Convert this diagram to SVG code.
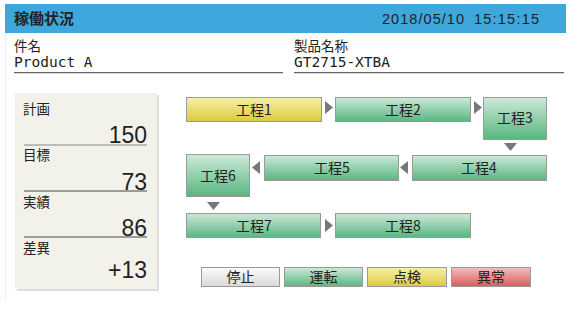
<svg xmlns="http://www.w3.org/2000/svg" width="570" height="322" viewBox="0 0 570 322">
<defs>
<linearGradient id="gG" x1="0" y1="0" x2="0" y2="1"><stop offset="0" stop-color="#cde9d8"/><stop offset="1" stop-color="#58b680"/></linearGradient>
<linearGradient id="gY" x1="0" y1="0" x2="0" y2="1"><stop offset="0" stop-color="#f7f0a8"/><stop offset="1" stop-color="#ddca3e"/></linearGradient>
<linearGradient id="gR" x1="0" y1="0" x2="0" y2="1"><stop offset="0" stop-color="#f5c0c0"/><stop offset="1" stop-color="#d85a5e"/></linearGradient>
<linearGradient id="gW" x1="0" y1="0" x2="0" y2="1"><stop offset="0" stop-color="#fbfbfb"/><stop offset="1" stop-color="#d9d9d9"/></linearGradient>
</defs>
<style>
.j{font-family:"Noto Sans CJK JP","Liberation Sans",sans-serif;fill:#222}
.n{font-family:"Liberation Sans",Arial,sans-serif;fill:#222}
.m{font-family:"DejaVu Sans Mono","Liberation Mono",monospace;fill:#222}
.box{stroke:#9a9a9a;stroke-width:1}
.bt{font-family:"Noto Sans CJK JP","Liberation Sans",sans-serif;font-size:14px;fill:#222;text-anchor:middle}
.arr{fill:#777}
.ul{stroke:#666;stroke-width:1.3}
</style>
<rect width="570" height="322" fill="#fff"/>
<line x1="5.5" y1="33" x2="5.5" y2="300" stroke="#eee"/>
<rect x="5" y="4" width="561" height="29" fill="#3ea8dd"/>
<text class="j" x="14" y="24" font-size="15" font-weight="bold">稼働状況</text>
<text class="n" y="24" font-size="14.5"><tspan x="382" textLength="82" lengthAdjust="spacing">2018/05/10</tspan><tspan x="474" textLength="65" lengthAdjust="spacing">15:15:15</tspan></text>
<text class="j" x="14" y="51" font-size="13.5">件名</text>
<text class="m" x="14" y="67" font-size="14.5">Product A</text>
<line class="ul" x1="14" y1="72.7" x2="283" y2="72.7"/>
<text class="j" x="294" y="51" font-size="13.5">製品名称</text>
<text class="m" x="294" y="67" font-size="14.5">GT2715-XTBA</text>
<line class="ul" x1="294" y1="72.7" x2="564" y2="72.7"/>
<g id="panel">
<rect x="17" y="95" width="142" height="196" fill="#ddd"/>
<rect x="15" y="93" width="142" height="196" fill="#f3f2ea"/>
<text class="j" x="23" y="114" font-size="13.5">計画</text>
<text class="n" x="147" y="143" font-size="23" text-anchor="end">150</text>
<line x1="24" y1="145" x2="147" y2="145" stroke="#aaa" stroke-width="1.3"/>
<text class="j" x="23" y="160" font-size="13.5">目標</text>
<text class="n" x="147" y="190" font-size="23" text-anchor="end">73</text>
<line x1="24" y1="191" x2="147" y2="191" stroke="#444" stroke-width="1.2"/>
<text class="j" x="23" y="207" font-size="13.5">実績</text>
<text class="n" x="147" y="236" font-size="23" text-anchor="end">86</text>
<line x1="24" y1="237" x2="147" y2="237" stroke="#444" stroke-width="1.2"/>
<text class="j" x="23" y="253" font-size="13.5">差異</text>
<text class="n" x="147" y="278" font-size="23" text-anchor="end">+13</text>
</g>
<g id="p1"><rect class="box" x="186.5" y="97.5" width="135" height="24" fill="url(#gY)"/><text class="bt" x="254" y="114.5">工程1</text></g>
<g id="p2"><rect class="box" x="335.5" y="97.5" width="135" height="24" fill="url(#gG)"/><text class="bt" x="403" y="114.5">工程2</text></g>
<g id="p3"><rect class="box" x="483.5" y="97.5" width="63" height="42" fill="url(#gG)"/><text class="bt" x="515" y="123">工程3</text></g>
<g id="p4"><rect class="box" x="412.5" y="155.5" width="134" height="25" fill="url(#gG)"/><text class="bt" x="479" y="172.5">工程4</text></g>
<g id="p5"><rect class="box" x="264.5" y="155.5" width="134" height="25" fill="url(#gG)"/><text class="bt" x="332" y="172.5">工程5</text></g>
<g id="p6"><rect class="box" x="186.5" y="154.5" width="63" height="42" fill="url(#gG)"/><text class="bt" x="218" y="181">工程6</text></g>
<g id="p7"><rect class="box" x="186.5" y="213.5" width="134" height="24" fill="url(#gG)"/><text class="bt" x="254" y="230.5">工程7</text></g>
<g id="p8"><rect class="box" x="335.5" y="213.5" width="135" height="24" fill="url(#gG)"/><text class="bt" x="403" y="230.5">工程8</text></g>
<g id="connectors">
<polygon class="arr" points="325,101 333,107.5 325,114"/>
<polygon class="arr" points="474,101 482,107.5 474,114"/>
<polygon class="arr" points="504,143 517,143 510.5,151"/>
<polygon class="arr" points="408,161 400,167.5 408,174"/>
<polygon class="arr" points="260,161 252,167.5 260,174"/>
<polygon class="arr" points="207,202 220,202 213.5,210"/>
<polygon class="arr" points="325,219 333,225.5 325,232"/>
</g>
<g id="legend">
<rect class="box" x="201.5" y="267.5" width="78" height="19" fill="url(#gW)"/><text class="bt" x="240.5" y="282">停止</text>
<rect class="box" x="284.5" y="267.5" width="78" height="19" fill="url(#gG)"/><text class="bt" x="323.5" y="282">運転</text>
<rect class="box" x="367.5" y="267.5" width="79" height="19" fill="url(#gY)"/><text class="bt" x="407" y="282">点検</text>
<rect class="box" x="451.5" y="267.5" width="79" height="19" fill="url(#gR)"/><text class="bt" x="491" y="282">異常</text>
</g>
</svg>
